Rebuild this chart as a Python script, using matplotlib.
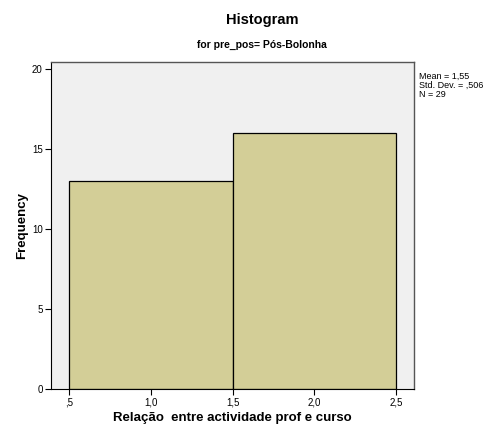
import matplotlib.pyplot as plt
import numpy as np

plt.rcParams['font.family'] = ['Liberation Sans', 'DejaVu Sans']

# dados do histograma
bin_edges = [0.5, 1.5, 2.5]
frequencias = [13, 16]
x_ticks = [0.5, 1.0, 1.5, 2.0, 2.5]
x_ticklabels = [',5', '1,0', '1,5', '2,0', '2,5']
y_ticks = [0, 5, 10, 15, 20]
stats_text = 'Mean = 1,55\nStd. Dev. = ,506\nN = 29'

fig = plt.figure(figsize=(4.92, 4.30), dpi=100, facecolor='white')
ax = fig.add_axes([0.1037, 0.0953, 0.7378, 0.7605])
ax.set_facecolor('#F0F0F0')

lefts = np.array(bin_edges[:-1])
widths = np.diff(bin_edges)
ax.bar(lefts, frequencias, width=widths, align='edge',
       color='#D3CE97', edgecolor='black', linewidth=0.9)

ax.set_xlim(0.39, 2.61)
ax.set_ylim(0, 20.44)
ax.set_xticks(x_ticks)
ax.set_xticklabels(x_ticklabels)
ax.set_yticks(y_ticks)
ax.tick_params(axis='both', labelsize=7, length=4, width=0.8, color='black', pad=2)

for side in ['top', 'right']:
    ax.spines[side].set_color('#555555')
    ax.spines[side].set_linewidth(1.0)
for side in ['left', 'bottom']:
    ax.spines[side].set_color('black')
    ax.spines[side].set_linewidth(0.8)

ax.set_xlabel('Relação  entre actividade prof e curso', fontsize=9.5, fontweight='bold', labelpad=3)
ax.set_ylabel('Frequency', fontsize=9.5, fontweight='bold', labelpad=3)

fig.text(0.5325, 0.953, 'Histogram', ha='center', va='center', fontsize=10.5, fontweight='bold')
fig.text(0.5325, 0.896, 'for pre_pos= Pós-Bolonha', ha='center', va='center', fontsize=7.5, fontweight='bold')
fig.text(0.851, 0.832, stats_text, ha='left', va='top', fontsize=6.5, linespacing=0.95)

fig.savefig('out.png', dpi=100)
